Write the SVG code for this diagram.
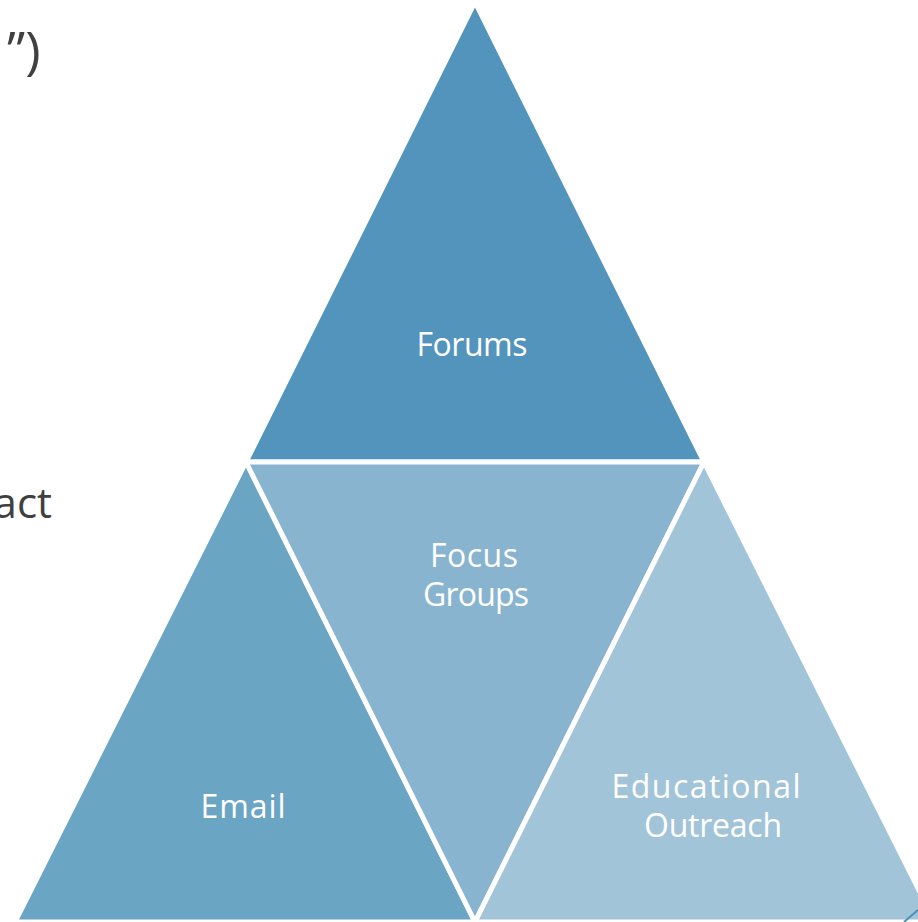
<svg xmlns="http://www.w3.org/2000/svg" width="918" height="922" viewBox="0 0 918 922">
<style>
.tri{stroke:#ffffff;stroke-width:5;stroke-linejoin:miter}
.lbl{font-family:"Open Sans","Liberation Sans",sans-serif;font-size:32px;fill:#ffffff;text-anchor:middle}
.bg{font-family:"Open Sans","Liberation Sans",sans-serif;font-size:42px;fill:#404040}
</style>
<rect width="918" height="922" fill="#ffffff"/>
<text class="bg" x="7" y="69" style="font-size:52px">”)</text>
<text class="bg" x="52" y="518" text-anchor="end">act</text>
<g id="forums">
<polygon class="tri" points="475,2 246,462 704,462" fill="#5294bb"/>
<text class="lbl" x="472" y="356" textLength="111">Forums</text>
</g>
<g id="email">
<polygon class="tri" points="246,462 15,922 475,922" fill="#6ba5c4"/>
<text class="lbl" x="243" y="818" textLength="85">Email</text>
</g>
<g id="focus-groups">
<polygon class="tri" points="246,462 704,462 475,922" fill="#88b4cf"/>
<text class="lbl" x="474" y="567" textLength="88">Focus</text>
<text class="lbl" x="476" y="606" textLength="106">Groups</text>
</g>
<g id="educational-outreach">
<polygon class="tri" points="704,462 475,922 935,922" fill="#a2c4d8"/>
<text class="lbl" x="706" y="798" textLength="189">Educational</text>
<text class="lbl" x="713" y="837" textLength="138">Outreach</text>
</g>
<g id="connectors">
<line x1="904" y1="922" x2="918" y2="910" stroke="#4f8fb8" stroke-width="2"/>
</g>
</svg>
